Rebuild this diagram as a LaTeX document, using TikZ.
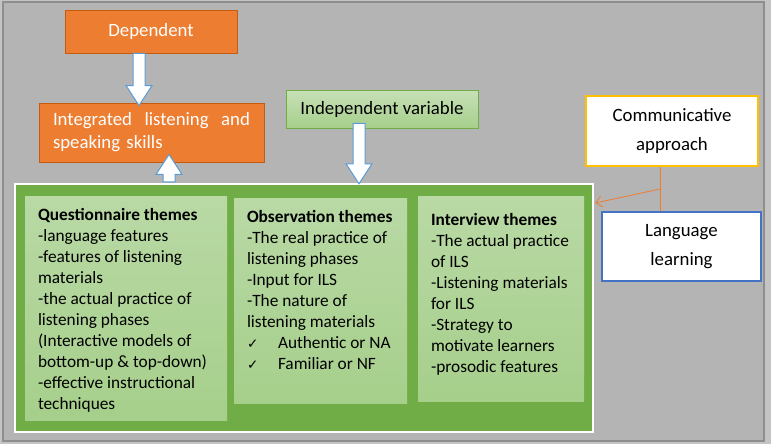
\documentclass[tikz,border=0pt]{standalone}
\usepackage{fontspec}
\setmainfont{Carlito}
\newfontfamily\symfont{DejaVu Sans}
\usetikzlibrary{arrows.meta,calc,positioning}
\definecolor{outergray}{HTML}{C4C4C4}
\definecolor{bggray}{HTML}{B4B4B4}
\definecolor{framegray}{HTML}{8E8E8E}
\definecolor{orangefill}{HTML}{ED7D31}
\definecolor{orangeline}{HTML}{C55A11}
\definecolor{greenfill}{HTML}{70AD47}
\definecolor{greentop}{HTML}{B9D9A5}
\definecolor{greenbot}{HTML}{A6CF8B}
\definecolor{arrowblue}{HTML}{5B9BD5}
\definecolor{goldline}{HTML}{FFC000}
\definecolor{blueline}{HTML}{4472C4}
\newcommand{\checkitem}[1]{\makebox[31pt][l]{\symfont\fontsize{13.5}{21}\selectfont ✓}#1}

\begin{document}
\begin{tikzpicture}[x=1pt,y=-1pt,
  orangebox/.style={draw=orangeline,fill=orangefill,line width=0.9pt,text=white,inner sep=0pt,font=\fontsize{18.8}{23}\selectfont},
  indepbox/.style={draw=greenfill,line width=0.9pt,top color=greentop!80!white,bottom color=greenbot,inner sep=0pt,font=\fontsize{18.8}{23}\selectfont},
  whitebox/.style={fill=white,line width=1.5pt,inner sep=0pt,align=center,font=\fontsize{18.8}{29.5}\selectfont},
  themebox/.style={top color=greentop,bottom color=greenbot,draw=none,inner sep=0pt},
  themetext/.style={anchor=north west,align=left,inner sep=0pt,font=\fontsize{17.3}{21}\selectfont},
  blockarrow/.style={draw=arrowblue,fill=white,line width=1pt,line join=miter,
    to path={let \p1=(\tikztostart), \p2=(\tikztotarget), \n1={sign(\y2-\y1)} in
      ({\x1-6pt},{\y1}) -- ({\x1-6pt},{\y2-\n1*20pt}) -- ({\x1-13pt},{\y2-\n1*20pt}) -- ({\x1},{\y2})
      -- ({\x1+13pt},{\y2-\n1*20pt}) -- ({\x1+6pt},{\y2-\n1*20pt}) -- ({\x1+6pt},{\y1}) -- cycle}},
  link/.style={draw=orangefill,line width=0.8pt}]
\useasboundingbox (0,0) rectangle (771,444);
% frame
\fill[outergray] (0,0) rectangle (771,444);
\draw[framegray,fill=bggray,line width=1.5pt] (3,2) rectangle (764,441);

% themes block
\node[draw=white,fill=greenfill,line width=2.5pt,minimum width=578,minimum height=248,inner sep=0pt] (outer) at (304,308) {};
\node[themebox,minimum width=202,minimum height=224] (qbox) at (126,308) {};
\node[themebox,minimum width=173,minimum height=205] (obox) at (320.5,300.5) {};
\node[themebox,minimum width=166,minimum height=205] (ibox) at (501,298.5) {};

\node[themetext] (qtext) at ([shift={(13,12)}]qbox.north west) {\textbf{Questionnaire themes}\\
-language features\\
-features of listening\\
materials\\
-the actual practice of\\
listening phases\\
(Interactive models of\\
bottom-up \& top-down)\\
-effective instructional\\
techniques};
\node[themetext] (otext) at ([shift={(13,12)}]obox.north west) {\textbf{Observation themes}\\
-The real practice of\\
listening phases\\
-Input for ILS\\
-The nature of\\
listening materials\\
\checkitem{Authentic or NA}\\
\checkitem{Familiar or NF}};
\node[themetext] (itext) at ([shift={(13,17)}]ibox.north west) {\textbf{Interview themes}\\
-The actual practice\\
of ILS\\
-Listening materials\\
for ILS\\
-Strategy to\\
motivate learners\\
-prosodic features};

% variables
\node[orangebox,minimum width=172,minimum height=43] (dep) at (151,31.5) {Dependent};
\node[orangebox,minimum width=225,minimum height=59,text width=197pt,align=left] (int) at (151.5,132.5) {\makebox[197pt][l]{Integrated\hfill listening\hfill and}\\speaking skills};
\node[indepbox,minimum width=192,minimum height=38] (indep) at (382,109) {Independent variable};
\node[whitebox,draw=goldline,minimum width=172,minimum height=70] (comm) at (672,131) {Communicative\\approach};
\node[whitebox,draw=blueline,minimum width=159,minimum height=69] (lang) at (681.5,246.5) {Language\\learning};

% block arrows
\draw[blockarrow] ([xshift=-12pt]dep.south) to ([xshift=-12.5pt,yshift=-3pt]int.north);
\draw[blockarrow] ([xshift=-135pt,yshift=1pt]outer.north) to ([xshift=17.5pt,yshift=8pt]int.south);
\draw[blockarrow] ([xshift=-23pt,yshift=5pt]indep.south) to ([xshift=55pt,yshift=-1pt]outer.north);

% context link
\coordinate (jtop) at ([xshift=-12pt]comm.south);
\coordinate (jbot) at (jtop |- lang.north);
\coordinate (junc) at ($(jtop)!0.5!(jbot)$);
\draw[link] (jtop) -- (jbot);
\draw[link,-{Straight Barb[length=6pt,width=11pt]}] (junc) -- ([xshift=1pt,yshift=105pt]outer.east);
\end{tikzpicture}
\end{document}
